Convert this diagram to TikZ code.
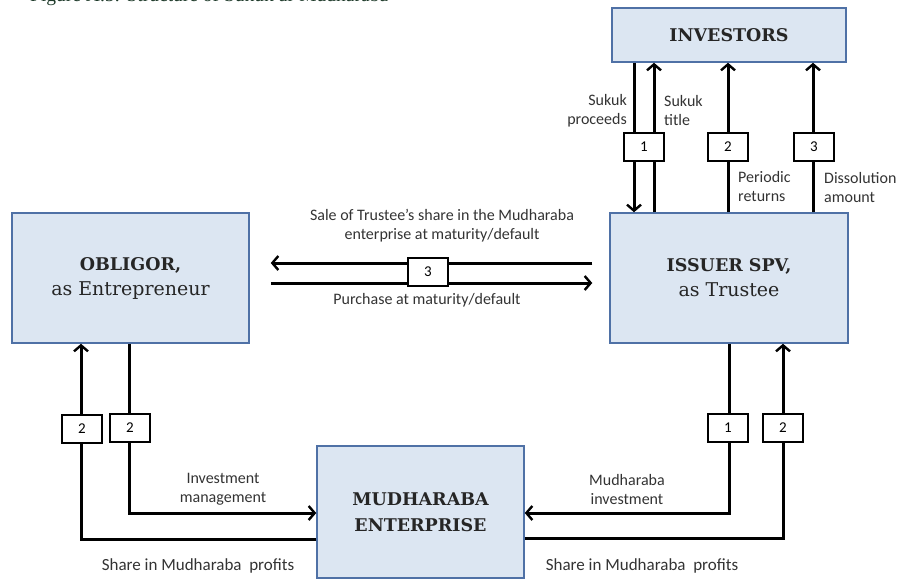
\documentclass[tikz,border=0pt]{standalone}
\usepackage{fontspec}
\setmainfont{DejaVu Serif}
\newfontfamily\lblfont{Carlito}
\newfontfamily\capfont{Liberation Serif}
\usetikzlibrary{arrows.meta,calc}

\definecolor{boxfill}{HTML}{DCE6F2}
\definecolor{boxline}{HTML}{4F71A6}
\definecolor{captcol}{HTML}{1E3A2A}

\newcommand{\headtxt}[1]{{\fontsize{17.5}{25}\selectfont\bfseries #1}}

\begin{document}
\begin{tikzpicture}[x=1pt,y=-1pt,
  party/.style={draw=boxline,fill=boxfill,line width=1.5pt,inner sep=0pt,
    align=center,font=\fontsize{19}{25}\selectfont,text=black!85},
  flow/.style={line width=3pt,line join=miter,
    -{Straight Barb[length=6pt,width=14pt,line width=2.4pt]}},
  tag/.style={draw,fill=white,line width=1.1pt,minimum width=40pt,minimum height=28pt,
    inner sep=0pt,font=\lblfont\fontsize{15}{17}\selectfont},
  lbl/.style={align=center,inner sep=0pt,text=black!80,
    font=\lblfont\fontsize{16}{19}\selectfont},
  lblwide/.style={lbl,font=\lblfont\fontsize{17}{19}\selectfont}
]
\useasboundingbox (0,0) rectangle (909,581);

% caption line, cut by the top edge
\node[anchor=base west,inner sep=0pt,text=captcol,font=\capfont\fontsize{19.5}{22}\selectfont]
  (cap) at (30,1.5) {Figure A.5: Structure of Sukuk al-Mudharaba};

% parties
\node[party,minimum width=234,minimum height=54] (inv) at (729,35)
  {\headtxt{INVESTORS}};
\node[party,minimum width=238,minimum height=130] (spv) at (729,278)
  {\headtxt{ISSUER SPV,}\\ as Trustee};
\node[party,minimum width=237,minimum height=130] (obl) at (130.5,278)
  {\headtxt{OBLIGOR,}\\ as Entrepreneur};
\node[party,minimum width=207,minimum height=132,font=\fontsize{17.5}{26}\selectfont]
  (mud) at (420.5,512)
  {\headtxt{MUDHARABA}\\ \headtxt{ENTERPRISE}};

% investors <-> issuer
\draw[flow] ([xshift=-95pt]inv.south) -- ([xshift=-95pt]spv.north);
\draw[flow] ([xshift=-75pt]spv.north) -- ([xshift=-75pt]inv.south);
\draw[flow] ([xshift=-1pt]spv.north) -- ([xshift=-1pt]inv.south);
\draw[flow] ([xshift=84pt]spv.north) -- ([xshift=84pt]inv.south);
\node[tag] (t1a) at (644,147) {1};
\node[tag] (t2a) at (728,147) {2};
\node[tag] (t3a) at (814,147) {3};
\node[lbl,anchor=east,align=right] (lproc) at (627,111) {Sukuk\\proceeds};
\node[lbl,anchor=west,align=left] (ltitle) at (664,111) {Sukuk\\title};
\node[lbl,anchor=west,align=left] (lret) at (738,186) {Periodic\\returns};
\node[lbl,anchor=west,align=left] (ldis) at (824,187) {Dissolution\\amount};

% obligor <-> issuer
\draw[flow] ([xshift=-17pt,yshift=15pt]spv.west) -- ([xshift=21pt,yshift=15pt]obl.east);
\draw[flow] ([xshift=21pt,yshift=-5pt]obl.east) -- ([xshift=-17pt,yshift=-5pt]spv.west);
\node[tag] (t3b) at (428,272) {3};
\node[lbl] (lsale) at (442,226) {Sale of Trustee’s share in the Mudharaba\\enterprise at maturity/default};
\node[lbl] (lpur) at (427,300) {Purchase at maturity/default};

% obligor <-> enterprise
\draw[flow] ([yshift=-27pt]mud.west) -| ([xshift=-49.5pt]obl.south);
\draw[flow] ([xshift=-1pt]obl.south) |- ([yshift=-1pt]mud.west);
\node[tag] (t2b) at (82,429) {2};
\node[tag] (t2c) at (130,428) {2};
\node[lbl] (linv) at (223,489) {Investment\\management};
\node[lblwide] (lshl) at (198,566) {Share in Mudharaba\ \ profits};

% issuer <-> enterprise
\draw[flow] (spv.south) |- ([yshift=-1pt]mud.east);
\draw[flow] ([yshift=-26pt]mud.east) -| ([xshift=54pt]spv.south);
\node[tag] (t1b) at (728,428) {1};
\node[tag] (t2d) at (783,428) {2};
\node[lbl] (lmud) at (627,489) {Mudharaba\\investment};
\node[lblwide] (lshr) at (642,566) {Share in Mudharaba\ \ profits};
\end{tikzpicture}
\end{document}
